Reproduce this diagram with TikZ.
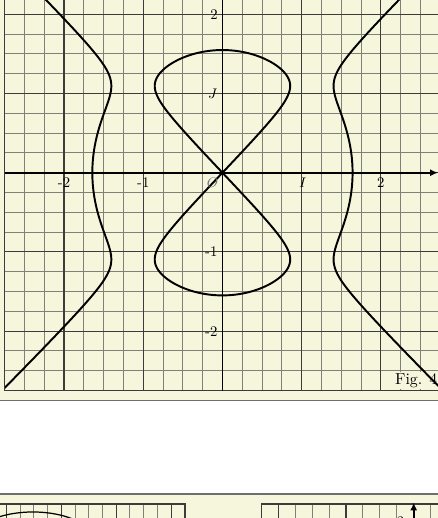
\documentclass[tikz,border=0pt]{standalone}
\usepackage{tikz}
\usetikzlibrary{arrows.meta}
\definecolor{paper}{HTML}{F5F6DC}
\definecolor{seprule}{HTML}{6E6E6E}
\definecolor{fine}{HTML}{808076}
\definecolor{bold}{HTML}{3C3C3C}
\tikzset{
  panel/.style={fill=paper, draw=none},
  edgeline/.style={draw=seprule, line width=0.7pt},
  fineline/.style={draw=fine, line width=0.6pt},
  unitline/.style={draw=bold, line width=0.75pt},
  frameline/.style={draw=bold, line width=0.9pt},
  axisline/.style={draw=black, line width=1.2pt},
  curveline/.style={draw=black, line width=1.25pt},
  arrowline/.style={-{Latex[length=5pt,width=4.5pt]}},
  ticklabel/.style={font=\fontsize{9.5}{11}\selectfont, inner sep=0pt},
  figlabel/.style={font=\fontsize{10.3}{12}\selectfont, fill=paper, inner sep=1pt}
}

\begin{document}
\begin{tikzpicture}[x=1.8cm, y=1.8cm,
  declare function={xin(\p)=2.4*sin(2*\p)/sqrt(2*(2.7+sqrt(7.29-5.76*sin(2*\p)*sin(2*\p))));
                    yin(\p)=1.5492*sin(\p);
                    xout(\s)=sqrt((2.7+sqrt(7.29+4*\s*\s*(\s*\s-2.4)))/2);}]
  \useasboundingbox (-2.809,-4.360) rectangle (2.721,2.181);
  \clip (-2.809,-4.360) rectangle (2.721,2.181);
  \fill[panel] (-2.809,-2.879) rectangle (2.721,2.181);
  \fill[panel] (-2.809,-4.360) rectangle (2.721,-4.057);
  \draw[edgeline] (-2.809,-2.879) -- (2.721,-2.879);
  \draw[edgeline] (-2.809,-4.057) -- (2.721,-4.057);
  \begin{scope}
    \clip (-2.75,-2.75) rectangle (2.721,2.181);
    \draw[fineline] (-2.75,-2.75) grid[step=0.25] (3,2.5);
    \draw[unitline] (-2.75,-2.75) grid[step=1] (3,2.5);
    \node[figlabel, anchor=base west] (figtag) at (2.157,-2.672) {Fig. 4};
    \draw[curveline] plot[domain=-3:3, samples=161] ({xout(\x)},\x);
    \draw[curveline] plot[domain=-3:3, samples=161] ({-xout(\x)},\x);
    \draw[curveline] plot[domain=0:360, samples=241, smooth] ({xin(\x)},{yin(\x)}) -- cycle;
  \end{scope}
  \draw[frameline] (-2.75,2.181) -- (-2.75,-2.75) -- (2.721,-2.75);
  \draw[axisline, arrowline] (-2.75,0) -- (2.721,0);
  \draw[axisline] (0,-2.75) -- (0,2.181);
  \node[ticklabel, anchor=east] (ytwo) at (-0.055,2) {2};
  \node[ticklabel, anchor=east] (yone) at (-0.06,1) {$J$};
  \node[ticklabel, anchor=east] (yminusone) at (-0.06,-1) {-1};
  \node[ticklabel, anchor=east] (yminustwo) at (-0.06,-2) {-2};
  \node[ticklabel, anchor=north] (xminustwo) at (-2,-0.055) {-2};
  \node[ticklabel, anchor=north] (xminusone) at (-1,-0.055) {-1};
  \node[ticklabel, text=black!55] (origin) at (-0.126,-0.124) {$O$};
  \node[ticklabel] (xone) at (1.014,-0.13) {$I$};
  \node[ticklabel, anchor=north] (xtwo) at (2,-0.055) {2};
  \foreach \k in {1,...,14} \draw[fineline] ({-0.4735-0.1736*\k},-4.183) -- ++(0,-0.2);
  \foreach \k in {1,5,9,13} \draw[unitline] ({-0.4735-0.1736*\k},-4.183) -- ++(0,-0.2);
  \draw[frameline] (-2.809,-4.183) -- (-0.4735,-4.183) -- (-0.4735,-4.36);
  \draw[black, line width=0.8pt] (-2.393,-4.638) ellipse [x radius=0.758, y radius=0.354];
  \foreach \k in {1,...,10} \draw[fineline] ({0.490+0.2139*\k},-4.183) -- ++(0,-0.2);
  \foreach \k in {1,5} \draw[unitline] ({0.490+0.2139*\k},-4.183) -- ++(0,-0.2);
  \draw[frameline] (0.490,-4.36) -- (0.490,-4.183) -- (2.721,-4.183);
  \draw[axisline, arrowline] (2.415,-4.36) -- (2.415,-4.165);
  \node[ticklabel, anchor=north] (ztwo) at (2.25,-4.345) {2};
\end{tikzpicture}
\end{document}
